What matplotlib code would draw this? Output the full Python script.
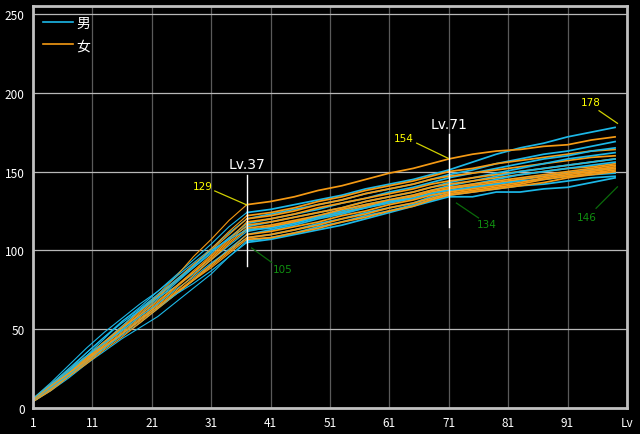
import matplotlib
matplotlib.use("Agg")
import matplotlib.pyplot as plt

plt.rcParams['font.family'] = ['Noto Sans CJK JP', 'DejaVu Sans']

levels = [1, 4, 7, 10, 13, 16, 19, 22, 25, 28, 31, 34, 37,
          41, 45, 49, 53, 57, 61, 65, 68, 71, 75, 79, 83, 87, 91, 95, 99]

male = [
    [5, 14, 24, 35, 45, 55, 64, 74, 84, 94, 104, 115, 124,
     126, 129, 132, 135, 139, 142, 145, 148, 151, 156, 161, 165, 168, 172, 175, 178],
    [6, 16, 27, 38, 48, 57, 66, 74, 83, 92, 101, 111, 120,
     123, 126, 129, 132, 136, 139, 142, 145, 148, 151, 155, 158, 161, 163, 166, 169],
    [5, 13, 22, 32, 42, 52, 62, 71, 80, 89, 98, 108, 117,
     120, 123, 126, 130, 133, 137, 140, 143, 146, 149, 152, 155, 158, 160, 163, 165],
    [4, 12, 21, 30, 40, 50, 59, 69, 79, 89, 99, 108, 115,
     118, 121, 124, 127, 131, 134, 137, 140, 143, 146, 149, 152, 155, 158, 160, 162],
    [5, 15, 25, 35, 45, 54, 62, 70, 77, 85, 94, 103, 112,
     115, 118, 122, 125, 129, 132, 135, 138, 141, 144, 147, 150, 152, 154, 156, 158],
    [4, 12, 20, 29, 38, 46, 54, 63, 72, 81, 91, 101, 110,
     113, 116, 120, 123, 127, 130, 133, 136, 139, 142, 145, 148, 150, 152, 154, 156],
    [6, 15, 24, 33, 41, 49, 58, 66, 75, 83, 92, 100, 108,
     110, 113, 117, 120, 124, 127, 130, 134, 137, 140, 142, 145, 147, 149, 151, 152],
    [5, 14, 23, 33, 44, 55, 63, 72, 81, 90, 100, 107, 113,
     114, 117, 121, 124, 127, 131, 133, 136, 138, 140, 142, 144, 145, 147, 148, 149],
    [4, 11, 19, 28, 36, 44, 51, 58, 67, 76, 85, 96, 106,
     108, 111, 115, 118, 122, 125, 129, 132, 135, 137, 139, 141, 142, 144, 146, 147],
    [5, 13, 21, 30, 38, 47, 56, 64, 72, 79, 87, 96, 105,
     107, 110, 113, 116, 120, 124, 128, 131, 134, 134, 137, 137, 139, 140, 143, 146],
]

female = [
    [5, 13, 22, 32, 42, 52, 62, 72, 83, 96, 107, 119, 129,
     131, 134, 138, 141, 145, 149, 152, 155, 158, 161, 163, 164, 166, 167, 170, 172],
    [4, 12, 21, 31, 41, 50, 60, 70, 80, 90, 101, 112, 122,
     124, 127, 131, 134, 138, 141, 144, 147, 150, 152, 155, 157, 159, 161, 163, 164],
    [5, 14, 23, 32, 41, 51, 61, 71, 81, 91, 100, 110, 120,
     122, 125, 129, 132, 136, 139, 142, 145, 147, 149, 151, 153, 155, 157, 159, 160],
    [4, 13, 22, 31, 40, 49, 58, 67, 77, 87, 97, 107, 118,
     120, 123, 127, 130, 133, 136, 139, 142, 144, 146, 148, 150, 152, 154, 156, 158],
    [5, 12, 20, 29, 38, 47, 56, 66, 76, 86, 96, 106, 116,
     118, 121, 124, 127, 131, 134, 137, 140, 142, 144, 146, 148, 150, 152, 153, 155],
    [6, 15, 24, 33, 42, 51, 59, 68, 77, 86, 95, 105, 114,
     116, 119, 122, 126, 129, 132, 135, 138, 140, 142, 144, 146, 148, 150, 152, 154],
    [4, 12, 21, 30, 39, 48, 57, 65, 74, 84, 94, 104, 113,
     115, 118, 121, 124, 128, 131, 134, 137, 139, 141, 143, 145, 147, 149, 151, 153],
    [5, 13, 21, 29, 38, 47, 55, 64, 73, 82, 91, 100, 110,
     112, 115, 118, 122, 125, 129, 132, 135, 137, 139, 141, 143, 146, 148, 150, 152],
    [4, 11, 20, 28, 37, 45, 54, 63, 72, 81, 90, 99, 108,
     110, 113, 116, 120, 123, 127, 130, 133, 136, 138, 140, 142, 145, 147, 149, 151],
    [5, 14, 22, 30, 39, 47, 56, 64, 73, 81, 89, 98, 107,
     108, 111, 114, 118, 121, 125, 128, 132, 135, 137, 139, 141, 143, 146, 148, 150],
]

xticks = [1, 11, 21, 31, 41, 51, 61, 71, 81, 91, 101]
xticklabels = ['1', '11', '21', '31', '41', '51', '61', '71', '81', '91', 'Lv']
yticks = [0, 50, 100, 150, 200, 250]

# marker lines at the two levels
marks = [(37, 90, 148, 'Lv.37', 155), (71, 115, 174, 'Lv.71', 180)]
# (text, text x, text y, line from, line to, colour)
notes = [
    ('129', 29.6, 141, (31.6, 137.7), (37, 128.8), 'yellow'),
    ('105', 43.1, 88, (37.8, 101.5), (41.2, 92.3), 'green'),
    ('154', 63.5, 171, (65.6, 168), (70.9, 158.4), 'yellow'),
    ('134', 77.4, 117, (72.3, 130), (76.0, 120.6), 'green'),
    ('178', 94.9, 194, (96.3, 188.6), (99.4, 180.6), 'yellow'),
    ('146', 94.3, 121, (95.8, 126.7), (99.4, 140.3), 'green'),
]

blue = '#1cb8e8'
orange = '#f59a14'

fig = plt.figure(figsize=(6.4, 4.35), dpi=100, facecolor='black')
ax = fig.add_axes([0.0516, 0.0598, 0.928, 0.924])
ax.set_facecolor('black')

k = levels.index(37)
for i in range(len(male)):
    for vals, c in ((male[i], blue), (female[i], orange)):
        ax.plot(levels[:k + 1], vals[:k + 1], color=c, lw=0.8)
        ax.plot(levels[k:], vals[k:], color=c, lw=1.25)

ax.plot([], [], color=blue, lw=1.2, label='男')
ax.plot([], [], color=orange, lw=1.2, label='女')

for x, y0, y1, txt, ty in marks:
    ax.plot([x, x], [y0, y1], color='white', lw=1.0, zorder=5)
    ax.text(x, ty, txt, color='white', fontsize=10, ha='center', va='center',
            family=['DejaVu Sans'], zorder=6)

for txt, tx, ty, p0, p1, kind in notes:
    tc = '#ffff00' if kind == 'yellow' else '#109010'
    lc = '#d0d000' if kind == 'yellow' else '#0a6a0a'
    ax.plot([p0[0], p1[0]], [p0[1], p1[1]], color=lc, lw=0.9, zorder=5)
    ax.text(tx, ty, txt, color=tc, fontsize=7.5, ha='center', va='center',
            family=['DejaVu Sans'], zorder=6)

ax.set_xlim(1, 101)
ax.set_ylim(0, 255)
ax.set_xticks(xticks)
ax.set_xticklabels(xticklabels)
ax.set_yticks(yticks)
ax.tick_params(colors='white', length=0, labelsize=8.5, pad=6)

for x in xticks[1:-1]:
    ax.axvline(x, color='#5a5a5a', lw=0.9, zorder=0)
for y in yticks[1:]:
    ax.axhline(y, color='#b8b8b8', lw=0.9, zorder=0)

for s in ax.spines.values():
    s.set_color('#c0c0c0')
    s.set_linewidth(2)

leg = ax.legend(loc='upper left', frameon=False, handlelength=2.2,
                labelspacing=0.6, fontsize=10, borderaxespad=0.3,
                handletextpad=0.2)
for t in leg.get_texts():
    t.set_color('white')

fig.savefig('out.png', dpi=100, facecolor='black')
